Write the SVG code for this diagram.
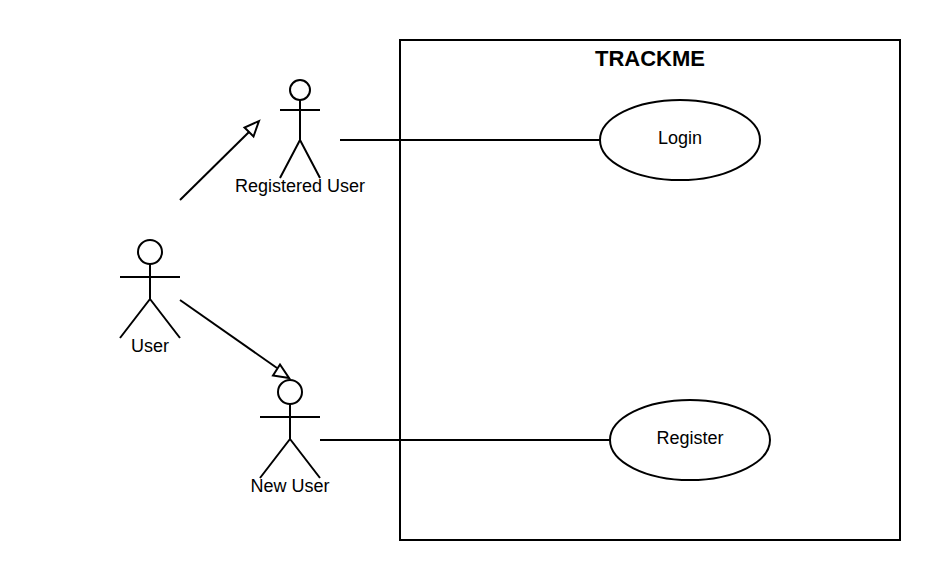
<svg xmlns="http://www.w3.org/2000/svg" width="940" height="580" viewBox="0 0 940 580">
<style>
.s{fill:none;stroke:#000;stroke-width:2}
.f{fill:#fff;stroke:#000;stroke-width:2}
text{font-family:"Liberation Sans",Arial,sans-serif;font-size:18px;fill:#000;text-anchor:middle}
</style>
<rect width="940" height="580" fill="#fff"/>
<g id="system"><rect class="f" x="400" y="40" width="500" height="500"/>
<text x="650" y="66" style="font-size:22px;font-weight:bold">TRACKME</text></g>
<g id="connectors">
<path class="s" d="M340 140H600M320 440H610"/>
<path class="s" d="M180 200L250 131"/>
<path class="f" d="M259 121L253.500 136.500L244.500 127.500Z"/>
<path class="s" d="M180 300L277 368"/>
<path class="f" d="M289 378L273 375.500L280 364.500Z"/>
</g>
<g id="login"><ellipse class="f" cx="680" cy="140" rx="80" ry="40"/><text x="680" y="144">Login</text></g>
<g id="register"><ellipse class="f" cx="690" cy="440" rx="80" ry="40"/><text x="690" y="444">Register</text></g>
<g id="registered-user"><circle class="s" cx="300" cy="90" r="10"/><path class="s" d="M280 110H320M300 100V140L280 178M300 140L320 178"/><text x="300" y="192">Registered User</text></g>
<g id="user"><circle class="s" cx="150" cy="252" r="12"/><path class="s" d="M120 277H180M150 264V299L120 338M150 299L180 338"/><text x="150" y="352">User</text></g>
<g id="new-user"><circle class="s" cx="290" cy="392" r="12"/><path class="s" d="M260 417H320M290 404V439L260 478M290 439L320 478"/><text x="290" y="492">New User</text></g>
</svg>
